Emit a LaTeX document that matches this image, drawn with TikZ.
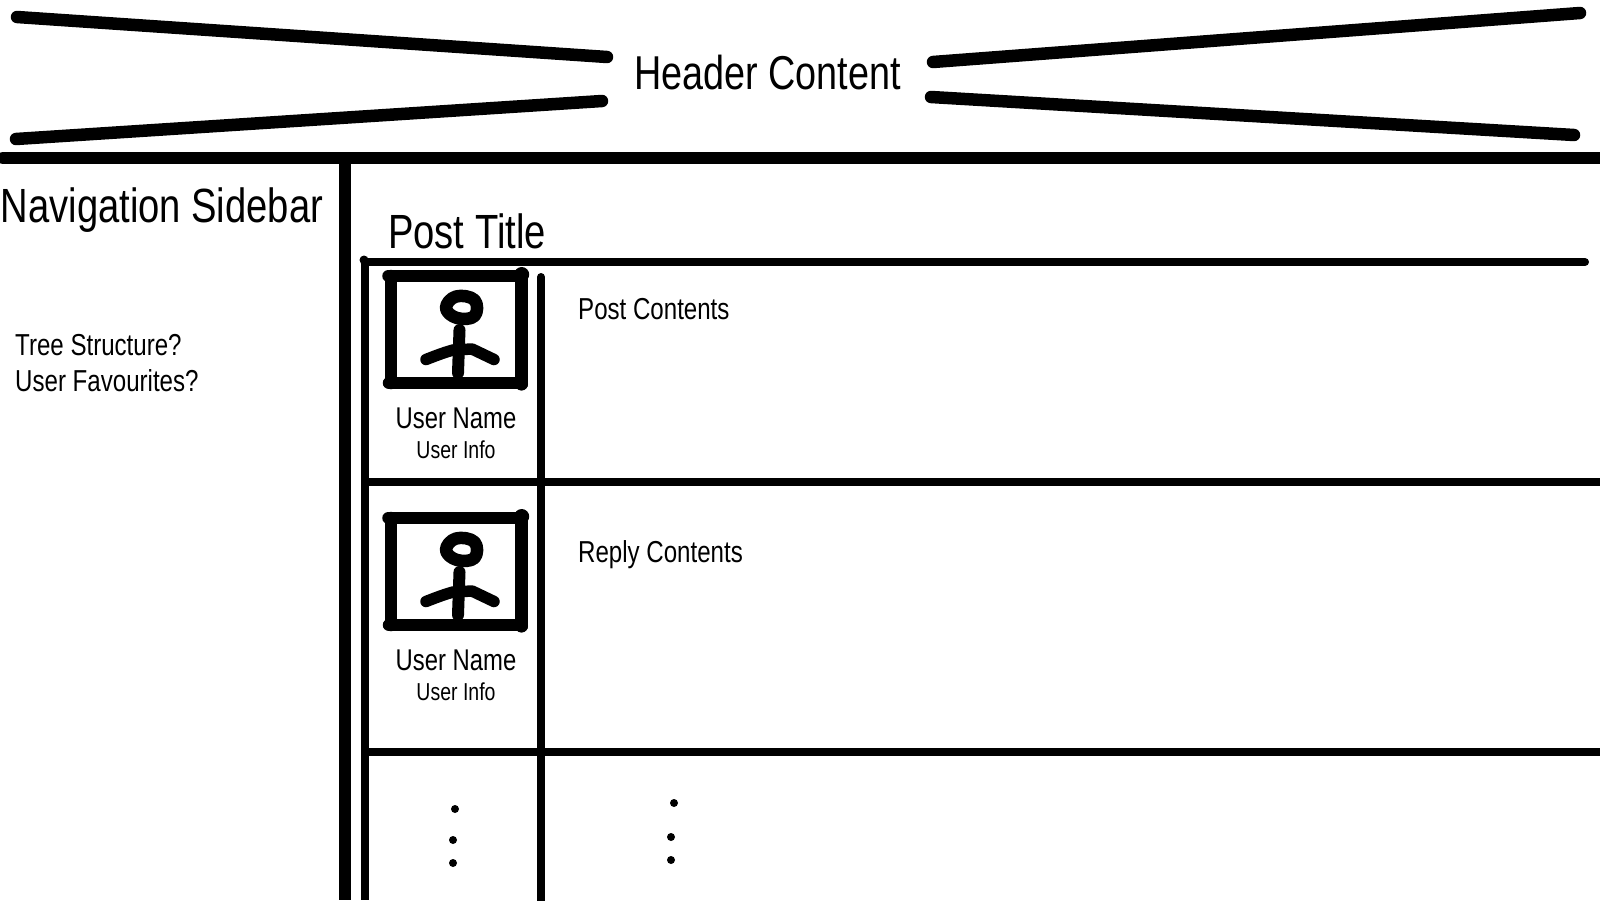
\documentclass[tikz,border=0pt]{standalone}
\usepackage{fontspec}
\setmainfont[FakeStretch=0.795]{Liberation Sans}
\usetikzlibrary{positioning}

\begin{document}
\begin{tikzpicture}[
  x=1pt, y=-1pt,
  thick line/.style={line width=12.5pt, line cap=round},
  rule/.style={line width=8pt},
  figure/.style={line width=12.5pt, line cap=round, line join=round},
  lbl/.style={anchor=base west, inner sep=0pt},
  big/.style={lbl, font=\fontsize{48}{48}\selectfont},
  mid/.style={lbl, font=\fontsize{30.3}{31}\selectfont},
  uname/.style={anchor=base, inner sep=0pt, font=\fontsize{30}{30}\selectfont},
  uinfo/.style={anchor=base, inner sep=0pt, font=\fontsize{24.5}{25}\selectfont}]

\useasboundingbox (0,0) rectangle (1600,900);
\fill[white] (0,0) rectangle (1600,900);

% header
\draw[thick line] (17,17) -- (607,57);
\draw[thick line] (16,139) -- (602,101);
\draw[thick line] (933,62) -- (1580,13);
\draw[thick line] (931,97) -- (1574,135);
\node[lbl, font=\fontsize{47.5}{48}\selectfont] (header) at (634,89) {Header Content};

% page layout
\draw[line width=12pt, line cap=round] (3,158) -- (1600,158);
\draw[line width=12pt] (344.8,158) -- (344.8,900);
\node[big] (navbar) at (0.5,222) {Navigation Sidebar};
\node[mid] (tree) at (15,355) {Tree Structure?};
\node[mid] (favs) at (15,391) {User Favourites?};

% post table
\node[big] (title) at (388,248) {Post Title};
\draw[rule, line cap=round] (368,262) -- (1585,262);
\draw[rule] (365,262) -- (365,900);
\fill (364,260) circle (4.5pt);
\draw[rule, line cap=round] (541,277) -- (541,904);
\draw[rule] (365,482) -- (1600,482);
\draw[rule] (365,752) -- (1600,752);
\node[mid] (post) at (578,319) {Post Contents};
\node[mid] (reply) at (578,562) {Reply Contents};

% avatars
\foreach \yo/\nm in {0/a, 242/b} {
  \begin{scope}[yshift=-\yo pt]
    \draw[thick line] (388.5,276) -- (521,276);
    \draw[thick line] (391,276) -- (391,383);
    \draw[thick line] (521.5,274) -- (521.5,384);
    \draw[thick line] (389,383) -- (521,383);
    \fill (521.7,274.5) circle (7.5pt);
    \fill (521.5,384) circle (6.5pt);
    \draw[figure] plot[smooth cycle, tension=0.7] coordinates {(446,308) (456,296.5) (474.5,300) (474.5,316) (457,318)};
    \draw[line width=12pt, line cap=round] (459.5,330) -- (458,373);
    \draw[figure, line width=11.5pt] (426,359.5) .. controls (440,354) and (446,352) .. (453,350) -- (472,349) -- (494,359.5);
    \node[uname] (name\nm) at (456,428.5) {User Name};
    \node[uinfo] (info\nm) at (456,458) {User Info};
  \end{scope}
}

% dots
\foreach \px/\py in {455/809, 453/840, 453/863, 674/803, 671/837, 671/860}
  \fill (\px,\py) circle (4pt);

\end{tikzpicture}
\end{document}
